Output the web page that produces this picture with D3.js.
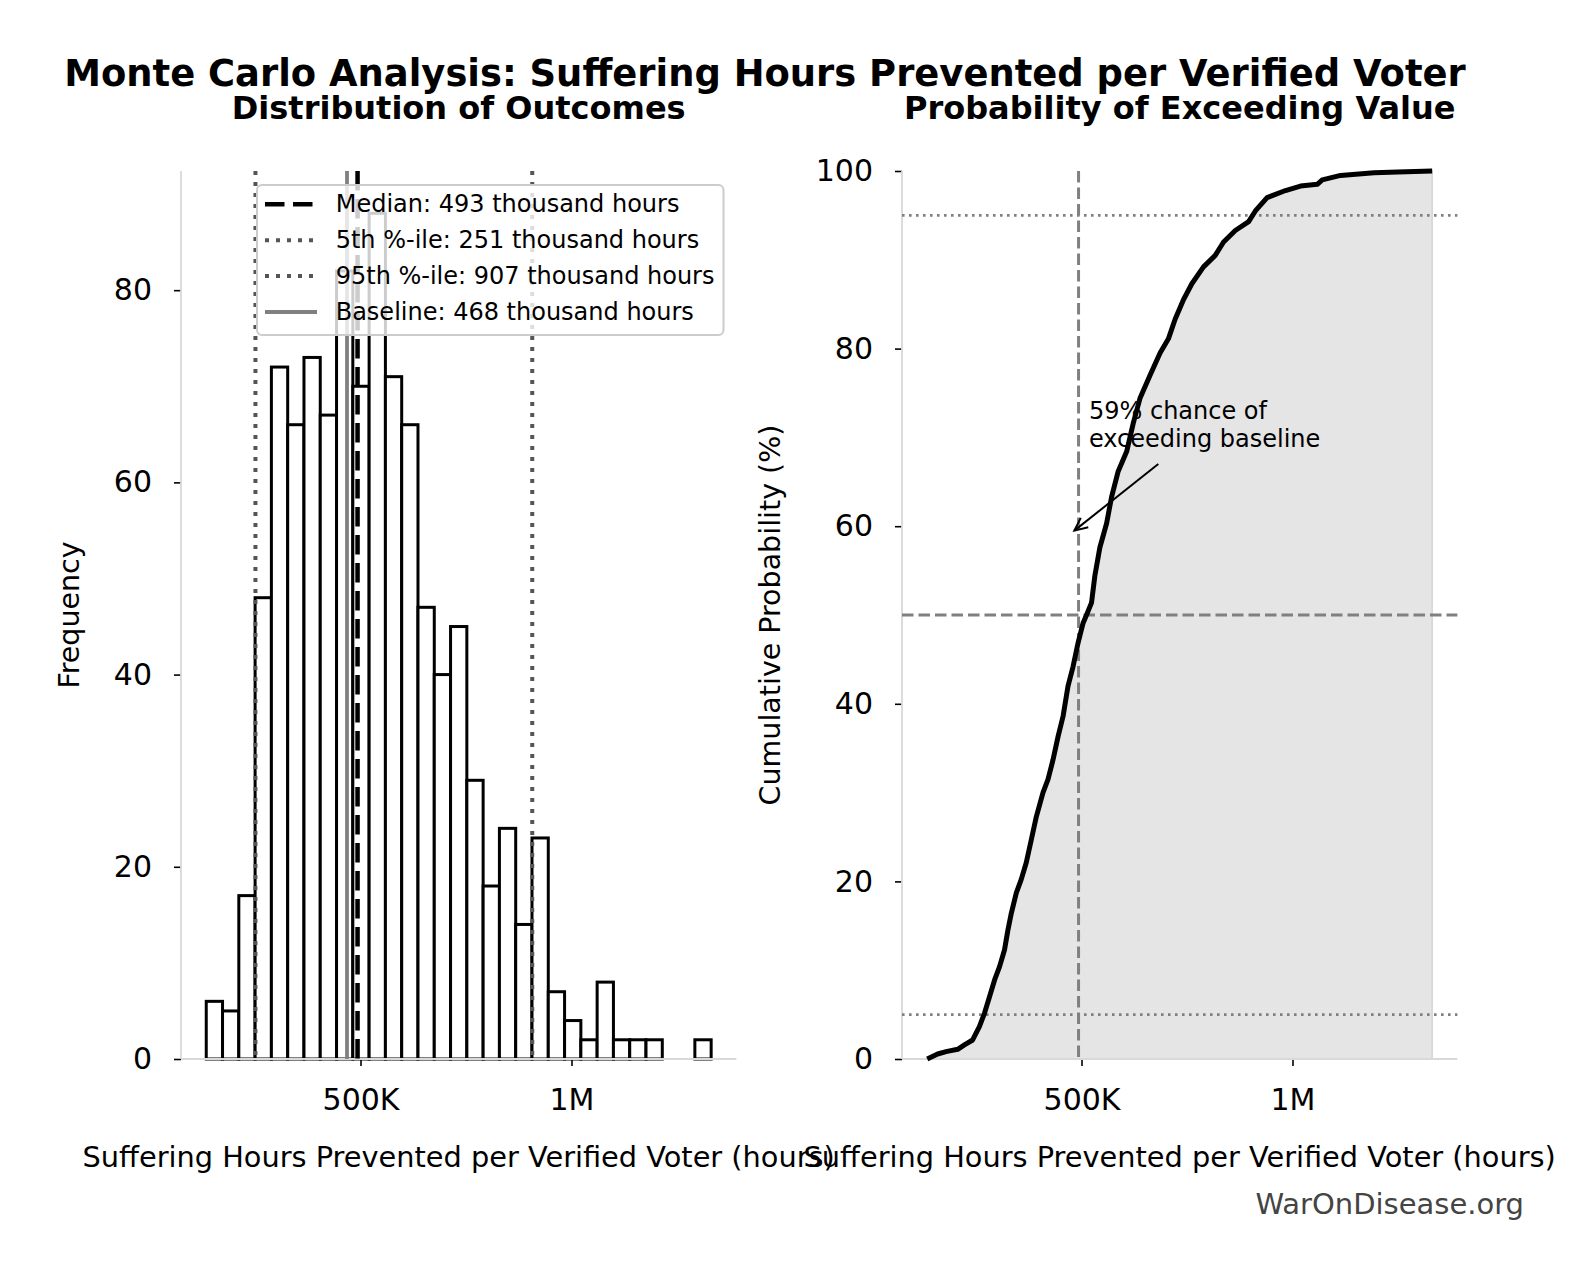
<!DOCTYPE html>
<html>
<head>
<meta charset="utf-8">
<script src="https://cdn.jsdelivr.net/npm/d3@7"></script>
<style>
  body { margin: 0; background: #fff; }
  text { font-family: "DejaVu Sans", sans-serif; }
</style>
</head>
<body>
<script>
var width = 1581,
    height = 1280;

// histogram: counts per bin, values in thousands of hours
var counts = [6, 5, 17, 48, 72, 66, 73, 67, 82, 70, 88, 71, 66, 47, 40, 45,
              29, 18, 24, 14, 23, 7, 4, 2, 8, 2, 2, 2, 0, 0, 2];
var binStart = 134.4, binWidth = 38.6;

// reference lines (thousand hours)
var refNames = ["Median", "5th %-ile", "95th %-ile", "Baseline"];
var refValues = [493, 251, 907, 468];

// cumulative curve (thousand hours, %)
var cdfX = [134.4, 159, 179, 206.6, 222.5, 242, 258, 270, 282, 294, 305.8, 317.6,
            325.5, 333.6, 345.5, 357, 369, 381, 393, 408.7, 420.6, 432.5, 444.4,
            456.3, 468, 480, 492, 503.8, 511.9, 523.8, 531.6, 543.5, 559.4, 571.3,
            587, 607, 622.7, 638.6, 662.4, 686.2, 705.9, 721.8, 741.6, 761.5,
            789.1, 816.9, 836.7, 864.5, 896.1, 912, 939.8, 983.4, 1019, 1058.7,
            1070.6, 1114, 1193.3, 1250, 1331];
var cdfY = [0, 0.56, 0.83, 1.09, 1.58, 2.14, 3.65, 5.15, 7.0, 8.9, 10.4, 12.3,
            14.5, 16.4, 18.7, 20.2, 22.1, 24.7, 27.3, 30.0, 31.5, 33.7, 36.3,
            38.6, 42.0, 44.2, 46.9, 49.1, 50.0, 51.4, 54.4, 57.6, 60.3, 63.3,
            66.2, 68.4, 71.6, 74.4, 77.0, 79.5, 81.1, 83.3, 85.5, 87.3,
            89.2, 90.5, 92.0, 93.3, 94.3, 95.5, 97.0, 97.8, 98.3, 98.5,
            99.0, 99.5, 99.8, 99.9, 100];

var xTicks = [500, 1000], xTickLabels = ["500K", "1M"];
var freqTicks = [0, 20, 40, 60, 80];
var probTicks = [0, 20, 40, 60, 80, 100];
var probGuides = [5, 50, 95];

var annotText = ["59% chance of", "exceeding baseline"];
var annotAt = [517.7, 72.1], annotTail = [682, 67.0], annotTip = [483, 59.5];

var svg = d3.select("body").append("svg")
    .attr("width", width)
    .attr("height", height);

var bins = counts.map(function(c, i) {
  return {x0: binStart + i * binWidth, x1: binStart + (i + 1) * binWidth, n: c};
});
var dataMin = binStart, dataMax = binStart + counts.length * binWidth;
var pad = (dataMax - dataMin) * 0.05;

var axTop = 171, axBottom = 1059;
var x1 = d3.scaleLinear().domain([dataMin - pad, dataMax + pad]).range([181, 736.4]);
var y1 = d3.scaleLinear().domain([0, d3.max(counts) * 1.05]).range([axBottom, axTop]);
var x2 = d3.scaleLinear().domain(x1.domain()).range([902, 1457.4]);
var y2 = d3.scaleLinear().domain([0, 100]).range([axBottom, axTop]);

// titles
svg.append("text")
    .attr("x", 765).attr("y", 85.5)
    .attr("text-anchor", "middle")
    .style("font-size", "36.9px").style("font-weight", "bold")
    .text("Monte Carlo Analysis: Suffering Hours Prevented per Verified Voter");

function subTitle(x, s) {
  var r = x.range();
  svg.append("text")
      .attr("x", (r[0] + r[1]) / 2).attr("y", 119)
      .attr("text-anchor", "middle")
      .style("font-size", "32px").style("font-weight", "bold")
      .text(s);
}
subTitle(x1, "Distribution of Outcomes");
subTitle(x2, "Probability of Exceeding Value");

function axes(x, y, yTicks, yLabel, yLabelX) {
  var r = x.range();
  var gx = svg.append("g")
      .attr("transform", "translate(0," + axBottom + ")")
      .call(d3.axisBottom(x).tickValues(xTicks)
        .tickFormat(function(d, i) { return xTickLabels[i]; })
        .tickSize(7).tickPadding(23));
  var gy = svg.append("g")
      .attr("transform", "translate(" + r[0] + ",0)")
      .call(d3.axisLeft(y).tickValues(yTicks).tickSize(7).tickPadding(22));
  [gx, gy].forEach(function(g) {
    g.select(".domain").remove();
    g.selectAll("line").attr("stroke", "#000").attr("stroke-width", 1.6);
    g.selectAll("text").style("font-size", "30px").style("font-family", "DejaVu Sans").attr("fill", "#000");
  });

  // spines
  svg.append("line").attr("x1", r[0]).attr("x2", r[0]).attr("y1", axTop).attr("y2", axBottom)
      .attr("stroke", "#d9d9d9").attr("stroke-width", 1.8);
  svg.append("line").attr("x1", r[0]).attr("x2", r[1]).attr("y1", axBottom).attr("y2", axBottom)
      .attr("stroke", "#d9d9d9").attr("stroke-width", 1.8);

  svg.append("text")
      .attr("x", (r[0] + r[1]) / 2).attr("y", 1167)
      .attr("text-anchor", "middle")
      .style("font-size", "28.8px")
      .text("Suffering Hours Prevented per Verified Voter (hours)");

  svg.append("text")
      .attr("transform", "translate(" + yLabelX + "," + (axTop + axBottom) / 2 + ") rotate(-90)")
      .attr("text-anchor", "middle")
      .style("font-size", "28.5px")
      .text(yLabel);
}

// ---------- left: histogram ----------
svg.append("g").selectAll("rect")
    .data(bins.filter(function(d) { return d.n > 0; }))
  .enter().append("rect")
    .attr("x", function(d) { return x1(d.x0); })
    .attr("width", function(d) { return x1(d.x1) - x1(d.x0); })
    .attr("y", function(d) { return y1(d.n); })
    .attr("height", function(d) { return y1(0) - y1(d.n); })
    .attr("fill", "#fff")
    .attr("stroke", "#000")
    .attr("stroke-width", 3);

axes(x1, y1, freqTicks, "Frequency", 79);

var refStyles = [
  {stroke: "#000", w: 4.5, dash: "19.5,8.5"},
  {stroke: "#555", w: 4, dash: "4,7"},
  {stroke: "#555", w: 4, dash: "4,7"},
  {stroke: "#808080", w: 3.8, dash: null}
];

refValues.forEach(function(v, i) {
  svg.append("line")
      .attr("x1", x1(v)).attr("x2", x1(v))
      .attr("y1", axTop).attr("y2", axBottom)
      .attr("stroke", refStyles[i].stroke)
      .attr("stroke-width", refStyles[i].w)
      .attr("stroke-dasharray", refStyles[i].dash);
});

// legend
var lg = svg.append("g");
lg.append("rect")
    .attr("x", 257).attr("y", 185)
    .attr("width", 466.5).attr("height", 150)
    .attr("rx", 5)
    .attr("fill", "#fff").attr("fill-opacity", 0.8)
    .attr("stroke", "#cccccc").attr("stroke-width", 2);

refNames.forEach(function(n, i) {
  var yy = 204.3 + i * 35.9;
  lg.append("line")
      .attr("x1", 265).attr("x2", 317).attr("y1", yy).attr("y2", yy)
      .attr("stroke", refStyles[i].stroke)
      .attr("stroke-width", refStyles[i].w)
      .attr("stroke-dasharray", refStyles[i].dash);
  lg.append("text")
      .attr("x", 335.7).attr("y", yy + 7.8)
      .style("font-size", "24px")
      .text(n + ": " + refValues[i] + " thousand hours");
});

// ---------- right: cumulative ----------
var cdf = cdfX.map(function(v, i) { return [v, cdfY[i]]; });

svg.append("path")
    .datum(cdf)
    .attr("d", d3.area()
      .x(function(d) { return x2(d[0]); })
      .y0(y2(0))
      .y1(function(d) { return y2(d[1]); }))
    .attr("fill", "#e5e5e5")
    .attr("stroke", "#d4d4d4")
    .attr("stroke-width", 1.5);

axes(x2, y2, probTicks, "Cumulative Probability (%)", 780);

probGuides.forEach(function(p) {
  svg.append("line")
      .attr("x1", x2.range()[0]).attr("x2", x2.range()[1])
      .attr("y1", y2(p)).attr("y2", y2(p))
      .attr("stroke", "#808080")
      .attr("stroke-width", p === 50 ? 3 : 2.6)
      .attr("stroke-dasharray", p === 50 ? "11.5,5" : "2.6,4.4");
});

svg.append("line")
    .attr("x1", x2(refValues[0])).attr("x2", x2(refValues[0]))
    .attr("y1", axTop).attr("y2", axBottom)
    .attr("stroke", "#808080")
    .attr("stroke-width", 3)
    .attr("stroke-dasharray", "11.5,5");

svg.append("path")
    .datum(cdf)
    .attr("d", d3.line()
      .x(function(d) { return x2(d[0]); })
      .y(function(d) { return y2(d[1]); }))
    .attr("fill", "none")
    .attr("stroke", "#000")
    .attr("stroke-width", 5)
    .attr("stroke-linejoin", "round");

// annotation
annotText.forEach(function(t, i) {
  svg.append("text")
      .attr("x", x2(annotAt[0])).attr("y", y2(annotAt[1]) + i * 28)
      .style("font-size", "24px")
      .text(t);
});
var tx = x2(annotTail[0]), ty = y2(annotTail[1]),
    hx = x2(annotTip[0]), hy = y2(annotTip[1]);
var ang = Math.atan2(hy - ty, hx - tx), hl = 13, hw = 6;
svg.append("line")
    .attr("x1", tx).attr("y1", ty).attr("x2", hx).attr("y2", hy)
    .attr("stroke", "#000").attr("stroke-width", 2);
svg.append("path")
    .attr("d", "M" + (hx - hl * Math.cos(ang) + hw * Math.sin(ang)) + "," + (hy - hl * Math.sin(ang) - hw * Math.cos(ang)) +
               "L" + hx + "," + hy +
               "L" + (hx - hl * Math.cos(ang) - hw * Math.sin(ang)) + "," + (hy - hl * Math.sin(ang) + hw * Math.cos(ang)))
    .attr("fill", "none").attr("stroke", "#000").attr("stroke-width", 2);

// watermark
svg.append("text")
    .attr("x", 1524).attr("y", 1214)
    .attr("text-anchor", "end")
    .attr("fill", "#444")
    .style("font-size", "29px")
    .text("WarOnDisease.org");
</script>
</body>
</html>
